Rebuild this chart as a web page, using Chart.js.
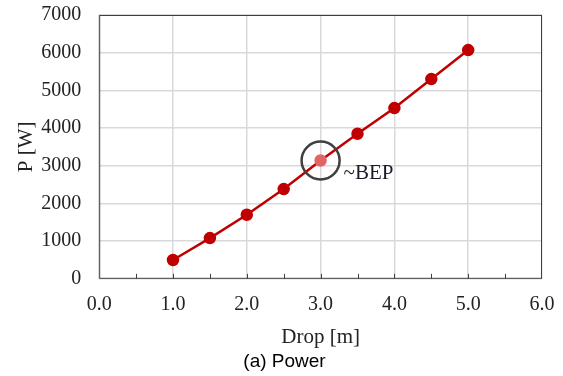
<!DOCTYPE html>
<html>
<head>
<meta charset="utf-8">
<script src="https://cdn.jsdelivr.net/npm/chart.js@4"></script>
<style>
html,body{margin:0;padding:0;background:#fff;}
</style>
</head>
<body>
<canvas id="graficoPotencia" width="563" height="376"></canvas>
<script>
const drop=[1.0,1.5,2.0,2.5,3.0,3.5,4.0,4.5,5.0]
const power=[500,1080,1700,2380,3140,3850,4530,5300,6070]
const bepDrop=3.0
const bepPower=3140
const xTicks=[0,1,2,3,4,5,6]
const yTicks=[0,1000,2000,3000,4000,5000,6000,7000]

const serif='"Liberation Serif", "Times New Roman", serif'
const corPonto=drop.map(d=>d===bepDrop?'#e06666':'#c00000')

// marcas menores no eixo x (a cada 0.5), moldura, rotulo do BEP e legenda inferior
const extras={
id:'extras',
afterDatasetsDraw(chart){
const c=chart.ctx, x=chart.scales.x, a=chart.chartArea
c.save()
c.strokeStyle='#404040'
c.lineWidth=1
for(let v=0.5;v<6;v+=0.5){
const px=Math.round(x.getPixelForValue(v))+0.5
c.beginPath()
c.moveTo(px,a.bottom)
c.lineTo(px,a.bottom-5)
c.stroke()
}
c.strokeRect(a.left+0.5,a.top+0.5,a.right-a.left-1,a.bottom-a.top-1)
const bx=x.getPixelForValue(bepDrop), by=chart.scales.y.getPixelForValue(bepPower)
c.fillStyle='#1a1a2a'
c.font='21px '+serif
c.textBaseline='middle'
c.textAlign='left'
c.fillText('~BEP',bx+23,by+13)
c.fillStyle='#000'
c.font='19px "Liberation Sans", Arial, sans-serif'
c.textAlign='center'
c.fillText('(a) Power',chart.width/2+3,chart.height-14)
c.restore()
}
}

const ctx_graficoPotencia=document.getElementById('graficoPotencia')
const graficoPotencia=new Chart(ctx_graficoPotencia,{
type:'scatter',
data:{
datasets:[{
label:'P',
data:drop.map((d,i)=>({x:d,y:power[i]})),
showLine:true,
borderColor:'#c00000',
borderWidth:2.5,
pointRadius:5,
pointBackgroundColor:corPonto,
pointBorderColor:corPonto,
order:2
},{
label:'BEP',
data:[{x:bepDrop,y:bepPower}],
showLine:false,
pointRadius:19,
pointBorderWidth:2.5,
pointBorderColor:'#404040',
pointBackgroundColor:'rgba(0,0,0,0)',
order:1
}]
},
options:{
responsive:false,
animation:false,
layout:{autoPadding:false,padding:{left:12,right:21,top:15,bottom:26}},
plugins:{
legend:{display:false},
tooltip:{enabled:false},
title:{display:false}
},
scales:{
x:{
type:'linear',
min:0,max:6,
afterBuildTicks:s=>{s.ticks=xTicks.map(v=>({value:v}))},
ticks:{
callback:v=>v.toFixed(1),
color:'#222',
font:{family:serif,size:20},
padding:3,
maxRotation:0
},
grid:{color:'#d9d9d9',lineWidth:1.5,drawTicks:true,tickLength:11,tickColor:'rgba(0,0,0,0)'},
border:{display:false},
title:{display:true,text:'Drop [m]',color:'#222',font:{family:serif,size:21},padding:{top:5,bottom:0}}
},
y:{
type:'linear',
min:0,max:7000,
afterBuildTicks:s=>{s.ticks=yTicks.map(v=>({value:v}))},
ticks:{
callback:v=>String(v),
color:'#222',
font:{family:serif,size:20,lineHeight:1},
padding:0
},
grid:{color:'#d9d9d9',lineWidth:1.5,drawTicks:true,tickLength:18,tickColor:'rgba(0,0,0,0)'},
border:{display:false},
title:{display:true,text:'P [W]',color:'#222',font:{family:serif,size:21},padding:{top:2,bottom:2}}
}
}
},
plugins:[extras]
})
</script>
</body>
</html>
